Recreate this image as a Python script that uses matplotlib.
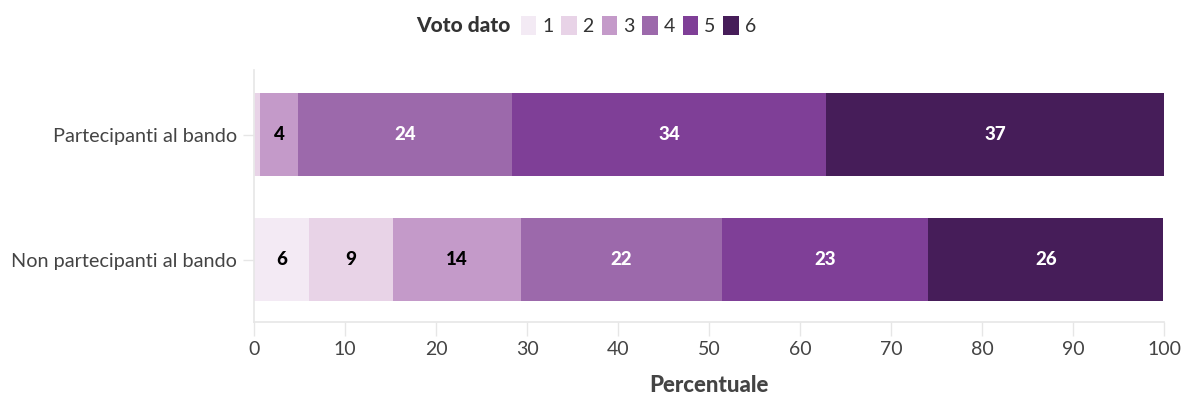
import matplotlib
matplotlib.use("Agg")
import matplotlib.pyplot as plt
import numpy as np

# data
groups = ["Non partecipanti al bando", "Partecipanti al bando"]
voti = ["1", "2", "3", "4", "5", "6"]
partecipanti = [0.1, 0.6, 4.1, 23.6, 34.5, 37.1]
non_partecipanti = [6.0, 9.3, 14.0, 22.1, 22.7, 25.8]

colors = ["#f3eaf4", "#e8d3e7", "#c49ac9", "#9c69ab", "#7f3f97", "#461d59"]
text_colors = ["black", "black", "black", "white", "white", "white"]

plt.rcParams["font.family"] = ["Lato", "DejaVu Sans"]

values = np.array([non_partecipanti, partecipanti])  # rows follow groups order

fig = plt.figure(figsize=(11.81, 3.94), dpi=100)
ax = fig.add_axes([0.2151, 0.1827, 0.7705, 0.6396])

y = np.arange(len(groups))
left = np.zeros(len(groups))
handles = []
for i, voto in enumerate(voti):
    bars = ax.barh(y, values[:, i], left=left, height=0.664,
                   color=colors[i], label=voto)
    handles.append(bars)
    for j in range(len(groups)):
        v = values[j, i]
        if v >= 3:
            ax.text(left[j] + v / 2, y[j], f"{v:.0f}", ha="center", va="center",
                    fontsize=13.5, fontweight="black", color=text_colors[i])
    left += values[:, i]

ax.set_xlim(0, 100)
ax.set_ylim(-0.5, 1.516)
ax.set_xticks(range(0, 101, 10))
ax.set_yticks(y)
ax.set_yticklabels(groups)
ax.tick_params(axis="x", length=10, width=1, color="#e6e6e6", labelsize=14,
               labelcolor="#444444", pad=4)
ax.tick_params(axis="y", length=8, width=1, color="#e6e6e6", labelsize=14.3,
               labelcolor="#444444", pad=4)
for side in ["top", "right"]:
    ax.spines[side].set_visible(False)
for side in ["left", "bottom"]:
    ax.spines[side].set_color("#e6e6e6")
    ax.spines[side].set_linewidth(1.2)

ax.set_xlabel("Percentuale", fontsize=16, fontweight="black", color="#444444",
              labelpad=12)

# legend on top
fig.text(0.432, 0.935, "Voto dato", fontsize=15, fontweight="black",
         color="#333333", va="center", ha="right")
fig.legend(handles=handles, labels=voti, loc="center left",
           bbox_to_anchor=(0.441, 0.935), ncol=6, frameon=False,
           borderpad=0, borderaxespad=0,
           fontsize=14, handlelength=0.8, handleheight=1.1,
           handletextpad=0.3, columnspacing=0.4, labelcolor="#333333")

fig.savefig("out.png", dpi=100)
